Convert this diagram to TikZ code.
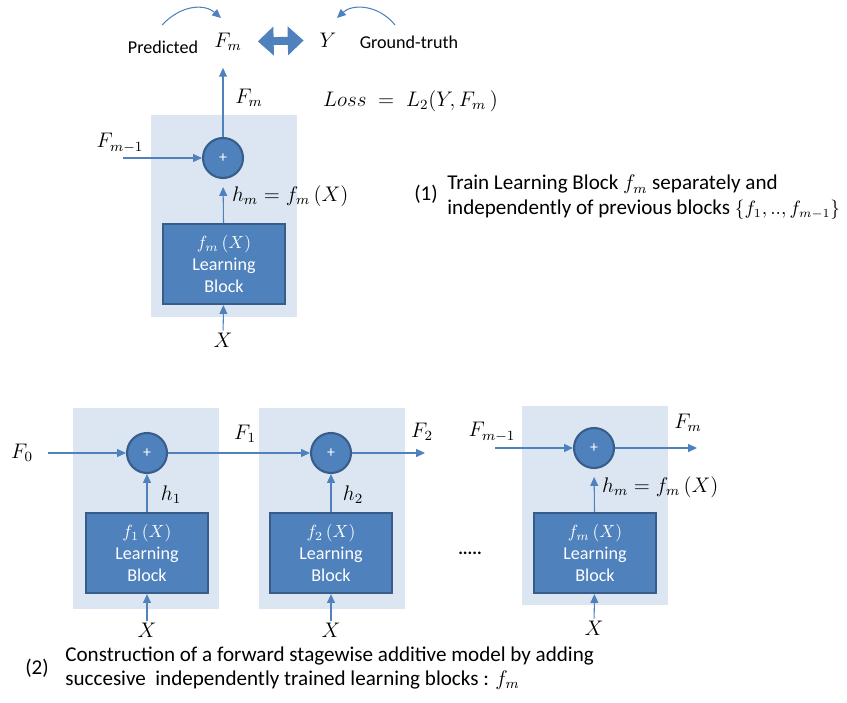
\documentclass[tikz,border=0pt]{standalone}
\usepackage{fontspec}
\setmainfont{Carlito}
\usetikzlibrary{arrows.meta,positioning}
\definecolor{panelblue}{HTML}{DCE6F2}
\definecolor{blockblue}{HTML}{4F81BD}
\definecolor{blockedge}{HTML}{385D8A}
\tikzset{
  panel/.style={fill=panelblue},
  sumnode/.style={circle,fill=blockblue,draw=blockedge,line width=1.2pt,minimum size=0.8cm,inner sep=0pt,text=white,font=\small},
  learnblock/.style={rectangle,fill=blockblue,draw=blockedge,line width=1.3pt,minimum width=2.44cm,minimum height=1.6cm,align=center,text=white,font=\fontsize{10.3}{12.5}\selectfont},
  flow/.style={draw=blockblue,line width=0.6pt,-{Triangle[length=5pt,width=4.5pt]}},
  bigarrow/.style={draw=blockblue,line width=4.5pt,{Triangle[length=9pt,width=16pt]}-{Triangle[length=9pt,width=16pt]}},
  mathlbl/.style={font=\fontsize{12}{14}\selectfont,inner sep=1pt},
  txt/.style={font=\fontsize{10.3}{13.6}\selectfont,align=left,inner sep=0pt},
  captxt/.style={font=\fontsize{12}{13.8}\selectfont,align=left,inner sep=0pt},
}
\begin{document}
\begin{tikzpicture}[x=0.02cm,y=-0.02cm]
  \useasboundingbox (0,0) rectangle (847,702);
  % (1) single block, trained on its own
  \fill[panel] (151,115) rectangle (297,317);
  \node[sumnode] (sum0) at (223,158) {+};
  \node[learnblock] (blk0) at (224,264) {$f_m\,(X)$\\Learning\\Block};
  \node[mathlbl] (xin0) at (223,340) {$X$};
  \node[mathlbl] (fprev0) at (120,143) {$F_{m-1}$};
  \coordinate (fin0) at (123,158);
  \node[mathlbl,anchor=west] (hlbl0) at (230,196) {$h_m = f_m\,(X)$};
  \node[mathlbl] (fout0) at (249,98) {$F_m$};
  \node[mathlbl,anchor=west] (loss) at (321,101) {$Loss\;=\;L_2(Y,F_m\,)$};
  \node[mathlbl] (predfm) at (228,42) {$F_m$};
  \node[mathlbl] (gty) at (328,40) {$Y$};
  \node[txt] (predlbl) at (163,47) {Predicted};
  \node[txt] (gtlbl) at (409,42) {Ground-truth};
  \coordinate (predstart) at (162,25);
  \coordinate (predend) at (221,18);
  \coordinate (gtstart) at (395,25);
  \coordinate (gtend) at (337,18);
  \draw[flow] (fin0) -- (sum0);
  \draw[flow] (blk0) -- (sum0.south) [shorten >=0.16cm];
  \draw[flow] (xin0) -- (blk0);
  \draw[flow,shorten >=0.3cm] (sum0) -- (sum0 |- predfm.south);
  \draw[bigarrow,shorten <=0.28cm,shorten >=0.28cm] (predfm) -- (gty);
  \draw[flow] (predstart) .. controls (182,4) and (205,4) .. (predend);
  \draw[flow] (gtstart) .. controls (378,4) and (352,4) .. (gtend);
  \node[captxt,anchor=west] (num1) at (414,194) {(1)};
  \node[captxt,anchor=north west] (cap1) at (447,175) {Train Learning Block $f_m$ separately and\\independently of previous blocks {\fontsize{10.5}{13}\selectfont$\{f_1,..,f_{m-1}\}$}};
  % (2) stagewise chain of blocks
  \fill[panel] (73,408) rectangle (219,609);
  \fill[panel] (259,408) rectangle (405,609);
  \fill[panel] (522,406) rectangle (668,605);
  \node[sumnode] (sum1) at (147,453) {+};
  \node[sumnode] (sum2) at (331,453) {+};
  \node[sumnode] (sum3) at (594,448) {+};
  \node[learnblock] (blk1) at (147,553) {$f_1\,(X)$\\Learning\\Block};
  \node[learnblock] (blk2) at (331,553) {$f_2\,(X)$\\Learning\\Block};
  \node[learnblock] (blk3) at (595,553) {$f_m\,(X)$\\Learning\\Block};
  \node[mathlbl] (xin1) at (147,630) {$X$};
  \node[mathlbl] (xin2) at (331,630) {$X$};
  \node[mathlbl] (xin3) at (594,628) {$X$};
  \node[mathlbl] (f0) at (22,453) {$F_0$};
  \coordinate (fin1) at (48,453);
  \node[mathlbl] (f1) at (245,434) {$F_1$};
  \node[mathlbl] (f2) at (422,432) {$F_2$};
  \coordinate (fout2) at (425,453);
  \node[mathlbl] (fprev3) at (492,432) {$F_{m-1}$};
  \coordinate (fin3) at (495,448);
  \node[mathlbl] (fm3) at (688,423) {$F_m$};
  \coordinate (fout3) at (697,448);
  \node[mathlbl] (h1) at (171,495) {$h_1$};
  \node[mathlbl] (h2) at (353,495) {$h_2$};
  \node[mathlbl,anchor=west] (hlbl3) at (600,487) {$h_m = f_m\,(X)$};
  \node[font=\bfseries] (dots) at (470,553) {.....};
  \draw[flow] (fin1) -- (sum1);
  \draw[flow] (sum1) -- (sum2);
  \draw[flow] (sum2) -- (fout2);
  \draw[flow] (fin3) -- (sum3);
  \draw[flow] (sum3) -- (fout3);
  \draw[flow] (blk1) -- (sum1);
  \draw[flow] (blk2) -- (sum2);
  \draw[flow] (blk3) -- (sum3.south) [shorten >=0.16cm];
  \draw[flow] (xin1) -- (blk1);
  \draw[flow] (xin2) -- (blk2);
  \draw[flow] (xin3) -- (blk3);
  \node[captxt,anchor=west] (num2) at (25,668) {(2)};
  \node[captxt,anchor=north west] (cap2) at (65,646) {Construction of a forward stagewise additive model by adding\\succesive\ \ independently trained learning blocks : $f_m$};
\end{tikzpicture}
\end{document}
